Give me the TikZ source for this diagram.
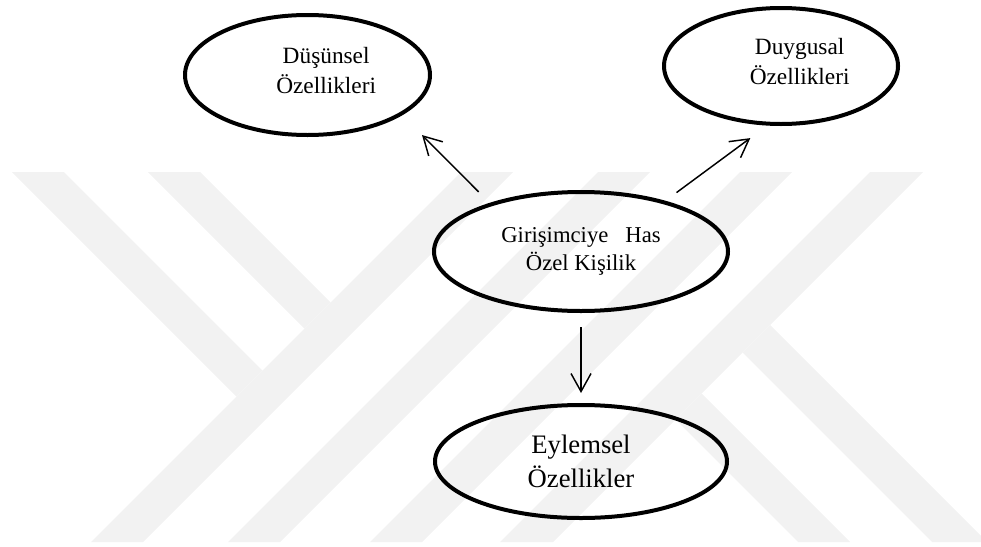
\documentclass[tikz,border=0pt]{standalone}
\usepackage{fontspec}
\setmainfont{Liberation Serif}
\usepackage{tikz}
\usetikzlibrary{arrows.meta,shapes.geometric}
\tikzset{%
  tipV/.tip={Straight Barb[length=13.5pt,width=15pt]},
}
\newcommand{\smallfs}{\fontsize{17.5}{22.5}\selectfont}

\begin{document}
\begin{tikzpicture}[x=0.75pt,y=-0.75pt,
  oval/.style={draw, ellipse, line width=3pt, inner sep=0pt},
  wmark/.style={fill=black!5},
  arr/.style={line width=1.1pt, -tipV}]
\useasboundingbox (0,0) rectangle (981,546);
% watermark
\fill[wmark] (12,172)--(64,172)--(262.5,370.5)--(236.5,396.5)--cycle;
\fill[wmark] (148,172)--(200,172)--(330.5,302.5)--(304.5,328.5)--cycle;
\fill[wmark] (461,172)--(513,172)--(143,542)--(91,542)--cycle;
\fill[wmark] (598,172)--(650,172)--(280,542)--(228,542)--cycle;
\fill[wmark] (740,172)--(792,172)--(422,542)--(370,542)--cycle;
\fill[wmark] (870,172)--(923,172)--(553,542)--(500,542)--cycle;
\fill[wmark] (675.5,419.5)--(701.5,393.5)--(850,542)--(798,542)--cycle;
\fill[wmark] (742.5,352.5)--(770,325)--(987,542)--(932,542)--cycle;
% ovals
\node[oval, minimum width=183.75pt, minimum height=90pt] (dus) at (307.5,75) {};
\node[font=\smallfs, align=center] (dustxt) at ([xshift=14pt,yshift=3pt]dus.center) {Düşünsel\\Özellikleri};
\node[oval, minimum width=175.5pt, minimum height=87pt] (duy) at (781,66) {};
\node[font=\smallfs, align=center] (duytxt) at ([xshift=14pt,yshift=3pt]duy.center) {Duygusal\\Özellikleri};
\node[oval, minimum width=220.5pt, minimum height=89.25pt, font=\fontsize{17}{21}\selectfont, align=center] (gc) at (581,251.5) {Girişimciye\ \ \ Has\\Özel Kişilik};
\node[oval, minimum width=219pt, minimum height=84.75pt, font=\fontsize{20}{25}\selectfont, align=center] (eyl) at (581,461.5) {Eylemsel\\Özellikler};
% arrows
\draw[arr, shorten <=11.7pt, shorten >=21pt] (gc.152) -- (dus.-23);
\draw[arr, shorten <=10.4pt, shorten >=15.8pt] (gc.31.8) -- (duy.-103.2);
\draw[arr, shorten <=10.5pt, shorten >=7.5pt] (gc.south) -- (eyl.north);
\end{tikzpicture}
\end{document}
